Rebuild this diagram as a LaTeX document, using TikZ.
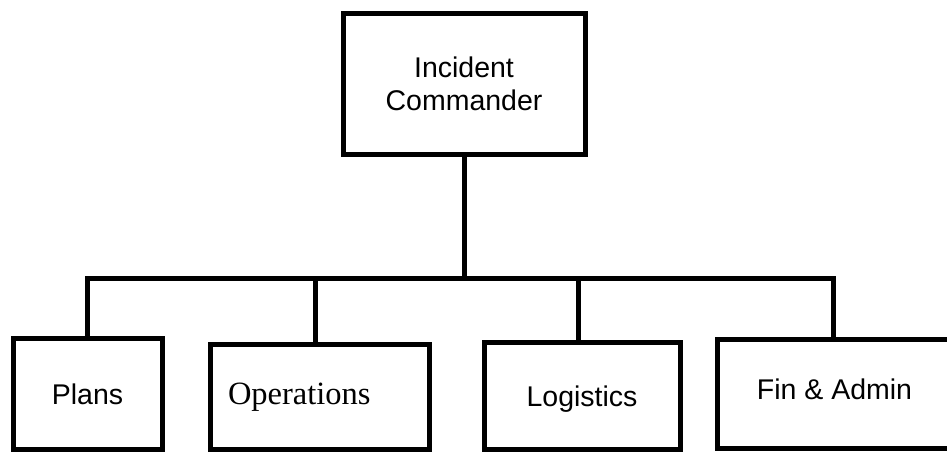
\documentclass[tikz,border=0pt]{standalone}
\usepackage{fontspec}
\setmainfont{Liberation Sans}
\newfontfamily\timesfont{Liberation Serif}
\usetikzlibrary{positioning, calc}
\tikzset{
  unit/.style={rectangle, draw=black, line width=5pt, align=center,
    inner sep=0pt, font=\fontsize{28.5}{33}\selectfont},
  section/.style={unit, text height=21pt, text depth=0pt},
  link/.style={line width=5pt, color=black}
}

\begin{document}
\begin{tikzpicture}[x=1pt, y=-1pt]
  \useasboundingbox (0,0) rectangle (947,451);
  \clip (0,0) rectangle (947,451);

  % Commander
  \node[unit, minimum width=242pt, minimum height=141pt] (ic) at (464,83.5) {Incident\\Commander};

  % Sections
  \node[section, minimum width=149pt, minimum height=111pt] (plans) at (87.5,393.5) {Plans};
  \node[section, minimum width=219pt, minimum height=105pt, text width=183pt,
    align=left, inner xsep=18pt, text depth=6pt,
    font=\fontsize{32.5}{36}\timesfont] (ops) at (319.5,396.5) {Operations};
  \node[section, minimum width=196pt, minimum height=107pt] (logs) at (582,395.5) {Logistics};
  \node[section, minimum width=235pt, minimum height=109pt, text depth=10pt] (fin) at (834.5,393.5) {Fin \& Admin};

  % Connectors
  \coordinate (bus) at (464,278);
  \draw[link] (ic.south) -- (bus);
  \draw[link] (plans.north) |- (bus);
  \draw[link] ($(ops.north)+(-4,0)$) |- (bus);
  \draw[link] ($(logs.north)+(-4,0)$) |- (bus);
  \draw[link] ($(fin.north)+(-1.5,0)$) |- (bus);
\end{tikzpicture}
\end{document}
